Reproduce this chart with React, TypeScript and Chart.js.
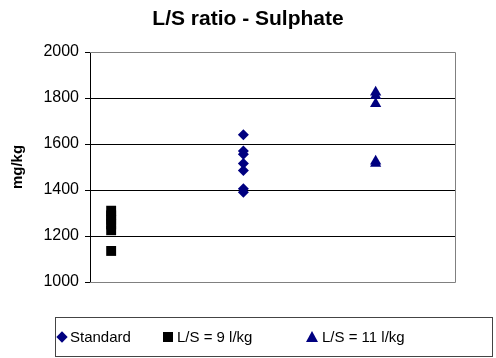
import React, { useEffect, useRef } from "react";
import { Chart, registerables } from "chart.js";

Chart.register(...registerables);

const chartTitle = "L/S ratio - Sulphate";
const yAxisTitle = "mg/kg";
const seriesNames = ["Standard", "L/S = 9 l/kg", "L/S = 11 l/kg"];

const standardX = [2, 2, 2, 2, 2, 2, 2];
const standardY = [1640, 1570, 1555, 1515, 1485, 1405, 1390];
const ls9X = [1, 1, 1, 1, 1, 1];
const ls9Y = [1310, 1290, 1270, 1250, 1225, 1135];
const ls11X = [3, 3, 3, 3, 3];
const ls11Y = [1825, 1810, 1775, 1525, 1515];

const yMin = 1000;
const yMax = 2000;
const yStep = 200;
const xMin = 0.84;
const xMax = 3.6;

const NAVY = "#000080";
const FONT = "Arial, 'Liberation Sans', sans-serif";

const toPoints = (xs: number[], ys: number[]) => xs.map((x, i) => ({ x, y: ys[i] }));

const framePlugin = {
  id: "frame",
  beforeDatasetsDraw(chart: any) {
    const { ctx, chartArea: a } = chart;
    ctx.save();
    ctx.strokeStyle = "#808080";
    ctx.lineWidth = 1;
    ctx.beginPath();
    ctx.moveTo(a.left, Math.round(a.top) + 0.5);
    ctx.lineTo(Math.round(a.right) + 0.5, Math.round(a.top) + 0.5);
    ctx.lineTo(Math.round(a.right) + 0.5, Math.round(a.bottom) + 0.5);
    ctx.lineTo(a.left, Math.round(a.bottom) + 0.5);
    ctx.stroke();
    ctx.restore();
  },
};

const legendPos = [
  { marker: 62, text: 70 },
  { marker: 168, text: 177 },
  { marker: 312, text: 322 },
];

function Marker({ kind }: { kind: number }) {
  if (kind === 0) {
    return (
      <span
        style={{
          position: "absolute",
          left: -4,
          top: -4,
          width: 8,
          height: 8,
          background: NAVY,
          transform: "rotate(45deg)",
        }}
      />
    );
  }
  if (kind === 1) {
    return (
      <span style={{ position: "absolute", left: -5, top: -5, width: 10, height: 10, background: "#000" }} />
    );
  }
  return (
    <span
      style={{
        position: "absolute",
        left: -6,
        top: -6,
        width: 0,
        height: 0,
        borderLeft: "6px solid transparent",
        borderRight: "6px solid transparent",
        borderBottom: `11px solid ${NAVY}`,
      }}
    />
  );
}

export default function App() {
  const canvasRef = useRef<HTMLCanvasElement | null>(null);

  useEffect(() => {
    const canvas = canvasRef.current;
    if (!canvas) return;
    const chart = new Chart(canvas, {
      type: "scatter",
      data: {
        datasets: [
          {
            label: seriesNames[0],
            data: toPoints(standardX, standardY),
            pointStyle: "rectRot",
            pointRadius: 5.5,
            backgroundColor: NAVY,
            borderColor: NAVY,
            borderWidth: 0,
          },
          {
            label: seriesNames[1],
            data: toPoints(ls9X, ls9Y),
            pointStyle: "rect",
            pointRadius: 7,
            backgroundColor: "#000",
            borderColor: "#000",
            borderWidth: 0,
          },
          {
            label: seriesNames[2],
            data: toPoints(ls11X, ls11Y),
            pointStyle: "triangle",
            pointRadius: 6.5,
            backgroundColor: NAVY,
            borderColor: NAVY,
            borderWidth: 0,
          },
        ],
      },
      options: {
        responsive: false,
        animation: false,
        devicePixelRatio: 1,
        layout: { padding: { left: 0, right: 41, top: 52, bottom: 76 } },
        plugins: {
          legend: { display: false },
          tooltip: { enabled: false },
          title: { display: false },
        },
        scales: {
          x: { type: "linear", min: xMin, max: xMax, display: false },
          y: {
            type: "linear",
            min: yMin,
            max: yMax,
            afterFit: (scale: any) => {
              scale.width = 90;
            },
            ticks: {
              stepSize: yStep,
              color: "#000",
              font: { family: FONT, size: 16 },
              padding: 6,
              callback: (v: any) => String(v),
            },
            grid: {
              color: (c: any) =>
                c.tick && (c.tick.value === yMin || c.tick.value === yMax) ? "rgba(0,0,0,0)" : "#000",
              tickColor: "#000",
              tickLength: 5,
              lineWidth: 1,
            },
            border: { display: true, color: "#000", width: 1 },
            title: {
              display: true,
              text: yAxisTitle,
              color: "#000",
              font: { family: FONT, size: 15, weight: "bold" },
              padding: { top: 9, bottom: 0 },
            },
          },
        },
      },
      plugins: [framePlugin],
    });
    return () => chart.destroy();
  }, []);

  return (
    <div
      style={{
        position: "absolute",
        left: 0,
        top: 0,
        width: 496,
        height: 358,
        overflow: "hidden",
        background: "#fff",
      }}
    >
      <canvas ref={canvasRef} width={496} height={358} style={{ display: "block" }} />
      <div
        style={{
          position: "absolute",
          left: 0,
          top: 5,
          width: 496,
          textAlign: "center",
          fontFamily: FONT,
          fontWeight: "bold",
          fontSize: 21,
          lineHeight: "25px",
          color: "#000",
        }}
      >
        {chartTitle}
      </div>
      <div
        style={{
          position: "absolute",
          left: 55,
          top: 317,
          width: 438,
          height: 40,
          border: "1px solid #444",
          boxSizing: "border-box",
          fontFamily: FONT,
          fontSize: 15,
          color: "#000",
        }}
      />
      {seriesNames.map((name, i) => (
        <React.Fragment key={name}>
          <span style={{ position: "absolute", left: legendPos[i].marker, top: 337, width: 0, height: 0 }}>
            <Marker kind={i} />
          </span>
          <span
            style={{
              position: "absolute",
              left: legendPos[i].text,
              top: 328,
              lineHeight: "18px",
              fontFamily: FONT,
              fontSize: 15,
              color: "#000",
              whiteSpace: "nowrap",
            }}
          >
            {name}
          </span>
        </React.Fragment>
      ))}
    </div>
  );
}
